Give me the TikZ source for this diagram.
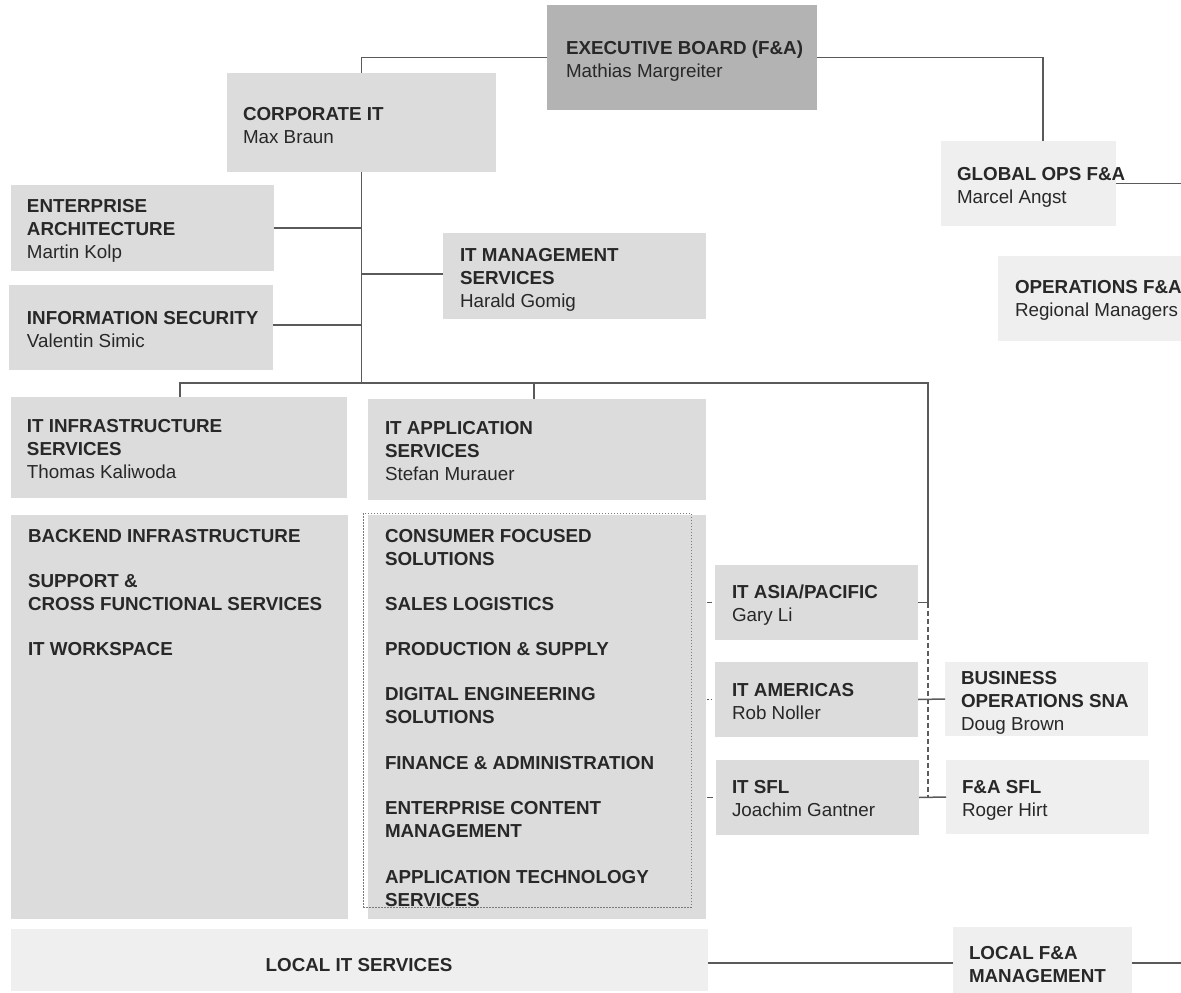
\documentclass[tikz,border=0pt]{standalone}
\usepackage{fontspec}
\setmainfont{Liberation Sans}
\definecolor{boardgray}{HTML}{B3B3B3}
\definecolor{unitgray}{HTML}{DCDCDC}
\definecolor{palegray}{HTML}{EFEFEF}
\definecolor{inkgray}{HTML}{282828}
\definecolor{linegray}{HTML}{5A5A5A}
\definecolor{dotgray}{HTML}{7A7A7A}
\begin{document}
\begin{tikzpicture}[x=1pt,y=-1pt,
  box/.style={rectangle, inner sep=0pt, outer sep=0pt, anchor=north west, draw=none},
  dark/.style={box, fill=boardgray},
  mid/.style={box, fill=unitgray},
  light/.style={box, fill=palegray},
  % text blocks are placed by the baseline of their first line
  txt/.style={anchor=north west, yshift=13pt, inner sep=0pt, outer sep=0pt, align=left,
              text=inkgray, font=\fontsize{18.8}{23}\selectfont,
              execute at begin node={\rule{0pt}{15pt}}},
  oneline/.style={anchor=base, inner sep=0pt, outer sep=0pt, text=inkgray,
              font=\fontsize{18.8}{23}\bfseries},
  conn/.style={draw=linegray, line width=1.5pt},
  dashconn/.style={conn, dash pattern=on 5pt off 3pt},
  dotconn/.style={conn, line width=1.2pt, dash pattern=on 1.5pt off 2pt},
  grpframe/.style={box, draw=dotgray, line width=0.9pt, dash pattern=on 1.5pt off 1.5pt},
]
\useasboundingbox (0,0) rectangle (1181,993);
\clip (0,0) rectangle (1181,993);
\fill[white] (0,0) rectangle (1181,993);

% ---- boxes ----
\node[dark,  minimum width=270pt, minimum height=105pt] (exec)   at (547,5)   {};
\node[mid,   minimum width=269pt, minimum height=99pt]  (corp)   at (227,73)  {};
\node[mid,   minimum width=263pt, minimum height=86pt]  (ea)     at (11,185)  {};
\node[mid,   minimum width=264pt, minimum height=85pt]  (isec)   at (9,285)   {};
\node[mid,   minimum width=263pt, minimum height=86pt]  (mgmt)   at (443,233) {};
\node[light, minimum width=175pt, minimum height=85pt]  (gops)   at (941,141) {};
\node[light, minimum width=200pt, minimum height=85pt]  (ops)    at (998,256) {};
\node[mid,   minimum width=336pt, minimum height=101pt] (infra)  at (11,397)  {};
\node[mid,   minimum width=338pt, minimum height=101pt] (appsvc) at (368,399) {};
\node[mid,   minimum width=337pt, minimum height=404pt] (backend) at (11,515) {};
\node[mid,   minimum width=338pt, minimum height=404pt] (applist) at (368,515) {};
\node[mid,   minimum width=203pt, minimum height=75pt]  (asia)   at (715,565) {};
\node[mid,   minimum width=203pt, minimum height=75pt]  (amer)   at (715,662) {};
\node[mid,   minimum width=203pt, minimum height=75pt]  (sfl)    at (716,760) {};
\node[light, minimum width=203pt, minimum height=74pt]  (bos)    at (945,662) {};
\node[light, minimum width=203pt, minimum height=74pt]  (fasfl)  at (946,760) {};
\node[light, minimum width=697pt, minimum height=62pt]  (localit) at (11,929) {};
\node[light, minimum width=179pt, minimum height=70pt]  (localfa) at (953,927) {};

% ---- texts ----
\node[txt] (execT)  at (566,54)  {\textbf{EXECUTIVE BOARD (F\&A)}\\Mathias Margreiter};
\node[txt] (corpT)  at (243,120) {\textbf{CORPORATE IT}\\Max Braun};
\node[txt] (eaT)    at (27,212)  {\textbf{ENTERPRISE}\\\textbf{ARCHITECTURE}\\Martin Kolp};
\node[txt] (isecT)  at (27,324)  {\textbf{INFORMATION SECURITY}\\Valentin Simic};
\node[txt] (mgmtT)  at (460,261) {\textbf{IT MANAGEMENT}\\\textbf{SERVICES}\\Harald Gomig};
\node[txt] (gopsT)  at (957,180) {\textbf{GLOBAL OPS F\&A}\\Marcel Angst};
\node[txt] (opsT)   at (1015,293) {\textbf{OPERATIONS F\&A}\\Regional Managers};
\node[txt] (infraT) at (27,432)  {\textbf{IT INFRASTRUCTURE}\\\textbf{SERVICES}\\Thomas Kaliwoda};
\node[txt] (appT)   at (385,434) {\textbf{IT APPLICATION}\\\textbf{SERVICES}\\Stefan Murauer};
\node[txt, font=\fontsize{18.8}{23}\bfseries] (backendT) at (28,542)
  {BACKEND INFRASTRUCTURE\\[22pt]SUPPORT \&\\CROSS FUNCTIONAL SERVICES\\[22pt]IT WORKSPACE};
\node[txt] (asiaT)  at (732,598) {\textbf{IT ASIA/PACIFIC}\\Gary Li};
\node[txt] (amerT)  at (732,696) {\textbf{IT AMERICAS}\\Rob Noller};
\node[txt] (sflT)   at (732,793) {\textbf{IT SFL}\\Joachim Gantner};
\node[txt] (bosT)   at (961,684) {\textbf{BUSINESS}\\\textbf{OPERATIONS SNA}\\Doug Brown};
\node[txt] (fasflT) at (962,793) {\textbf{F\&A SFL}\\Roger Hirt};
\node[oneline] (localitT) at (359,971) {LOCAL IT SERVICES};
\node[txt, font=\fontsize{18.8}{23}\bfseries] (localfaT) at (969,959) {LOCAL F\&A\\MANAGEMENT};

% ---- application group (dotted frame, list clipped at its lower edge) ----
\node[grpframe, minimum width=328pt, minimum height=394pt] (grp) at (363,513) {};
\begin{scope}
  \clip (grp.north west) rectangle (grp.south east);
  \node[txt, font=\fontsize{18.8}{23}\bfseries] (applistT) at (385,542)
    {CONSUMER FOCUSED\\SOLUTIONS\\[22pt]SALES LOGISTICS\\[22pt]PRODUCTION \& SUPPLY\\[22pt]%
     DIGITAL ENGINEERING\\SOLUTIONS\\[23pt]FINANCE \& ADMINISTRATION\\[22pt]%
     ENTERPRISE CONTENT\\MANAGEMENT\\[23pt]APPLICATION TECHNOLOGY\\SERVICES};
\end{scope}

% ---- connectors ----
\coordinate (bus) at (0,383);
\coordinate (drop) at (928,383);
\draw[conn] (exec.west) -| (corp.north);
\draw[conn] (exec.east) -| ([xshift=14.5pt]gops.north);
\draw[conn] (gops.east) -- ++(70,0);
\draw[conn] (corp.south) -- (corp.south |- bus);
\draw[conn] (ea.east) -- (ea.east -| corp.south);
\draw[conn] (isec.east |- 0,325) -- (corp.south |- 0,325);
\draw[conn] (mgmt.west |- 0,274) -- (corp.south |- 0,274);
\draw[conn] ([xshift=1pt]infra.north) |- (drop) -- (drop |- asia.east) -- (asia.east);
\draw[conn] ([xshift=-3pt]appsvc.north) -- ([xshift=-3pt]appsvc.north |- bus);
\draw[dashconn] (drop |- asia.east) -- (drop |- sfl.east);
\draw[conn] (amer.east) -- (bos.west);
\draw[conn] (sfl.east) -- (fasfl.west);
\draw[conn] (localit.east |- 0,963) -- (localfa.west |- 0,963);
\draw[conn] (localfa.east |- 0,963) -- ++(60,0);
\draw[conn, line width=1.2pt, shorten >=3pt, shorten <=1pt] (applist.east |- asia.west) -- (asia.west);
\draw[dotconn, shorten >=2pt, shorten <=1pt] (applist.east |- amer.west) -- (amer.west);
\draw[conn, line width=1.2pt, shorten >=3pt, shorten <=1pt] (applist.east |- sfl.west) -- (sfl.west);
\end{tikzpicture}
\end{document}
